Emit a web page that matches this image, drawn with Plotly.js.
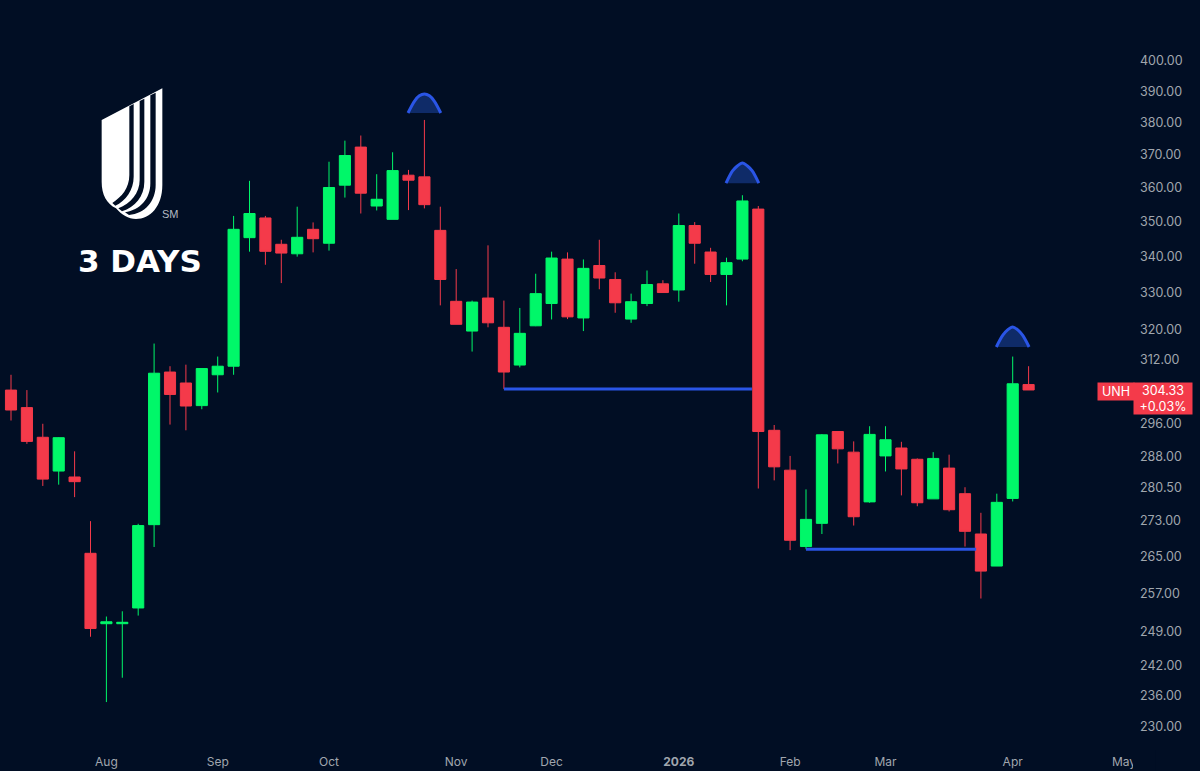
<!DOCTYPE html>
<html><head><meta charset="utf-8">
<script src="https://cdn.plot.ly/plotly-3.0.1.min.js"></script>
<style>html,body{margin:0;padding:0;background:#010e24;overflow:hidden}#c{width:1200px;height:771px}</style>
</head><body><div id="c"></div>
<script>
const opens=[304.3,299.9,292.6,284.5,283.1,265.7,250.6,250.6,253.9,272.1,308.9,306.1,300.4,308.2,310.4,345.4,351.1,343.5,340.8,347.8,343.8,360.8,372.4,354.6,350.7,363.8,363.3,347.5,327.6,319.6,328.5,320.6,310.7,321,327,339.3,323.1,337.5,333.6,322.8,327,332.4,330.7,348.9,341.3,335,339.3,353.7,294.3,284.7,267.2,272.4,294,289,277.3,288.1,290,287.3,278,285.2,279.2,270,262.9,278.1,305.7];
const highs=[308.2,304.3,295.9,292.6,289.2,272.9,252.1,253.2,272.3,316.3,310.4,310.8,309.8,312.9,351.7,362.1,351.7,344.8,354.4,349.8,367.9,374.4,376,364.1,370.8,365.4,380.9,354.4,336.5,327.8,343.2,327.8,325.8,335.2,341.4,341.2,339.2,344.8,335.6,329.7,336.1,333.4,352.4,349.9,342.5,339.7,357.8,354.6,295.6,288.1,280.2,293.4,294,291.6,295.3,295.3,291.5,287.5,289,288.4,280.7,274.8,279.2,312.9,310.4];
const lows=[296.7,291,281,281.3,278.4,247.9,234.8,239.6,252.3,267.1,295.7,294.3,299.5,303.7,308.2,341.4,337.7,332.6,340,341.2,341.7,357.1,352.4,353.3,350.7,353.4,353.9,326.5,321.4,314.2,320.6,304.6,310.1,320.9,322.7,322.8,319.6,330.9,324.5,321.8,326.3,330,327.5,338,332.9,326.5,338.7,280.4,282.3,266.4,266.6,270,286.3,271.9,277.1,284.4,278.8,276.3,278,275.1,267.2,255.9,262.9,277.4,304.33];
const closes=[299.3,291.6,282.6,292.5,282,249.6,251,250.9,271.9,308.6,303.2,300.3,309.8,310.4,347.8,352.4,341.5,341,345.5,345.1,360.1,369.8,358.4,356.6,365.2,362.3,355,333.6,321.4,327.4,321.8,308.9,319,329.7,339.6,323.4,336.7,334,327.2,327.5,332.2,330,348.9,343.8,335,338.3,356.1,294,285.5,268.6,273.3,293.2,289.8,273.9,293.3,292,285,277.1,287.5,275.5,270.6,261.8,277.2,305.9,304.33];
const sessions=opens.map((_,i)=>i);

const monthTickIdx=[6,13,20,28,34,42,49,55,63,70];
const monthTickText=['Aug','Sep','Oct','Nov','Dec','<b>2026</b>','Feb','Mar','Apr','May'];
const priceTicks=[400,390,380,370,360,350,340,330,320,312,296,288,280.5,273,265,257,249,242,236,230];
const priceTickText=['400.00','390.00','380.00','370.00','360.00','350.00','340.00','330.00','320.00','312.00','296.00','288.00','280.50','273.00','265.00','257.00','249.00','242.00','236.00','230.00'];

const supportA={x:[31,46.6],y:[304.6,304.6]};
const supportB={x:[50,60.7],y:[266.6,266.6]};
const humpOffsets=[-1.03,-0.62,-0.32,0,0.32,0.62,1.03];
const hump1={c:26,y:[383.1,386.9,388.6,389.2,388.6,386.9,383.1]};
const hump2={c:46,y:[361.4,365.1,366.6,367.5,366.6,365.1,361.4]};
const hump3={c:63,y:[315.4,318.5,319.9,320.7,319.9,318.5,315.4]};

const BG='#010e24',GREEN='#00f769',RED='#f43a4a',BLUE='#2a55e6',HUMPFILL='#0f2b68',TICK='#a0a6ae';
const W=1133,H=750;
const px=(x,y)=>(x/W).toFixed(5)+' '+(1-y/H).toFixed(5);
const z=(x,y)=>px(60+x/3,75+y/3);
const P=(cmds)=>cmds.map(c=>c[0]+(c[1].map(p=>z(p[0],p[1])).join(' '))).join(' ');
const logoWhite=P([['M',[[125,135]]],['L',[[307,40]]],['L',[[307,330]]],['C',[[307,395],[270,432],[228,432]]],['C',[[205,432],[185,420],[168,400]]],['C',[[140,385],[125,360],[125,320]]],['Z',[]]]);
const strip1=P([['M',[[208,94]]],['L',[[221,87]]],['L',[[221,305]]],['C',[[221,345],[197,378],[166,392]]],['L',[[157,384]]],['C',[[185,365],[208,340],[208,300]]],['Z',[]]]);
const strip2=P([['M',[[239,78]]],['L',[[253,71]]],['L',[[253,320]]],['C',[[253,365],[225,396],[186,409]]],['L',[[175,400]]],['C',[[212,385],[239,355],[239,315]]],['Z',[]]]);
const strip3=P([['M',[[271,61]]],['L',[[287,53]]],['L',[[287,330]]],['C',[[287,378],[255,416],[207,420]]],['L',[[195,412]]],['C',[[240,405],[271,372],[271,325]]],['Z',[]]]);

const humpTrace=h=>({type:'scatter',mode:'lines',x:humpOffsets.map(o=>h.c+o),y:h.y,fill:'toself',fillcolor:HUMPFILL,
  line:{color:BLUE,width:3,shape:'spline',smoothing:0.9},hoverinfo:'skip',showlegend:false});
const levelTrace=l=>({type:'scatter',mode:'lines',x:l.x,y:l.y,line:{color:BLUE,width:3},hoverinfo:'skip',showlegend:false});

const data=[
 levelTrace(supportA),levelTrace(supportB),
 {type:'candlestick',x:sessions,open:opens,high:highs,low:lows,close:closes,whiskerwidth:0,
  increasing:{line:{color:GREEN,width:1},fillcolor:GREEN},
  decreasing:{line:{color:RED,width:1},fillcolor:RED},showlegend:false},
 humpTrace(hump1),humpTrace(hump2),humpTrace(hump3)
];
const layout={
 width:1200,height:771,paper_bgcolor:BG,plot_bgcolor:BG,showlegend:false,boxgap:0.3,boxgroupgap:0,
 margin:{l:0,r:67,t:0,b:21,pad:0},
 font:{family:'Inter, Roboto, sans-serif',color:TICK,size:13},
 xaxis:{type:'linear',range:[-0.692,70.566],rangeslider:{visible:false},showgrid:false,zeroline:false,showline:false,
  tickmode:'array',tickvals:monthTickIdx,ticktext:monthTickText,ticks:'',tickangle:0,ticklabelstandoff:3,tickfont:{size:12,color:TICK}},
 yaxis:{type:'log',side:'right',range:[2.3534,2.6241],autorange:false,showgrid:false,zeroline:false,showline:false,
  tickmode:'array',tickvals:priceTicks,ticktext:priceTickText,ticks:'',ticklabelstandoff:6,tickfont:{size:12.5,color:TICK}},
 shapes:[
  {type:'path',xref:'paper',yref:'paper',path:logoWhite,fillcolor:'#ffffff',line:{width:0},layer:'above'},
  {type:'path',xref:'paper',yref:'paper',path:strip1,fillcolor:BG,line:{width:0},layer:'above'},
  {type:'path',xref:'paper',yref:'paper',path:strip2,fillcolor:BG,line:{width:0},layer:'above'},
  {type:'path',xref:'paper',yref:'paper',path:strip3,fillcolor:BG,line:{width:0},layer:'above'},
  {type:'rect',xref:'paper',yref:'paper',x0:1,x1:1.02,y0:-0.03,y1:0,fillcolor:BG,line:{width:0},layer:'above'}
 ],
 annotations:[
  {xref:'paper',yref:'paper',x:170/W,y:1-214/H,xanchor:'center',yanchor:'middle',text:'SM',showarrow:false,font:{family:'Liberation Sans',size:11,color:'#b4bac2'}},
  {xref:'paper',yref:'paper',x:140/W,y:1-261/H,xanchor:'center',yanchor:'middle',text:'<b>3 DAYS</b>',showarrow:false,font:{family:'DejaVu Sans',size:31,color:'#ffffff'}},
  {xref:'paper',yref:'paper',x:1097/W,y:1-382/H,xanchor:'left',yanchor:'top',width:36,height:17,borderpad:0,bgcolor:RED,text:'UNH',showarrow:false,font:{size:12.5,color:'#ffffff'}},
  {xref:'paper',yref:'paper',x:1133/W,y:1-382/H,xanchor:'left',yanchor:'top',width:58,height:31,borderpad:0,bgcolor:RED,text:'304.33<br>+0.03%',showarrow:false,align:'center',font:{size:12.5,color:'#ffffff'}}
 ]
};
Plotly.newPlot('c',data,layout,{displayModeBar:false,staticPlot:true});
</script></body></html>
